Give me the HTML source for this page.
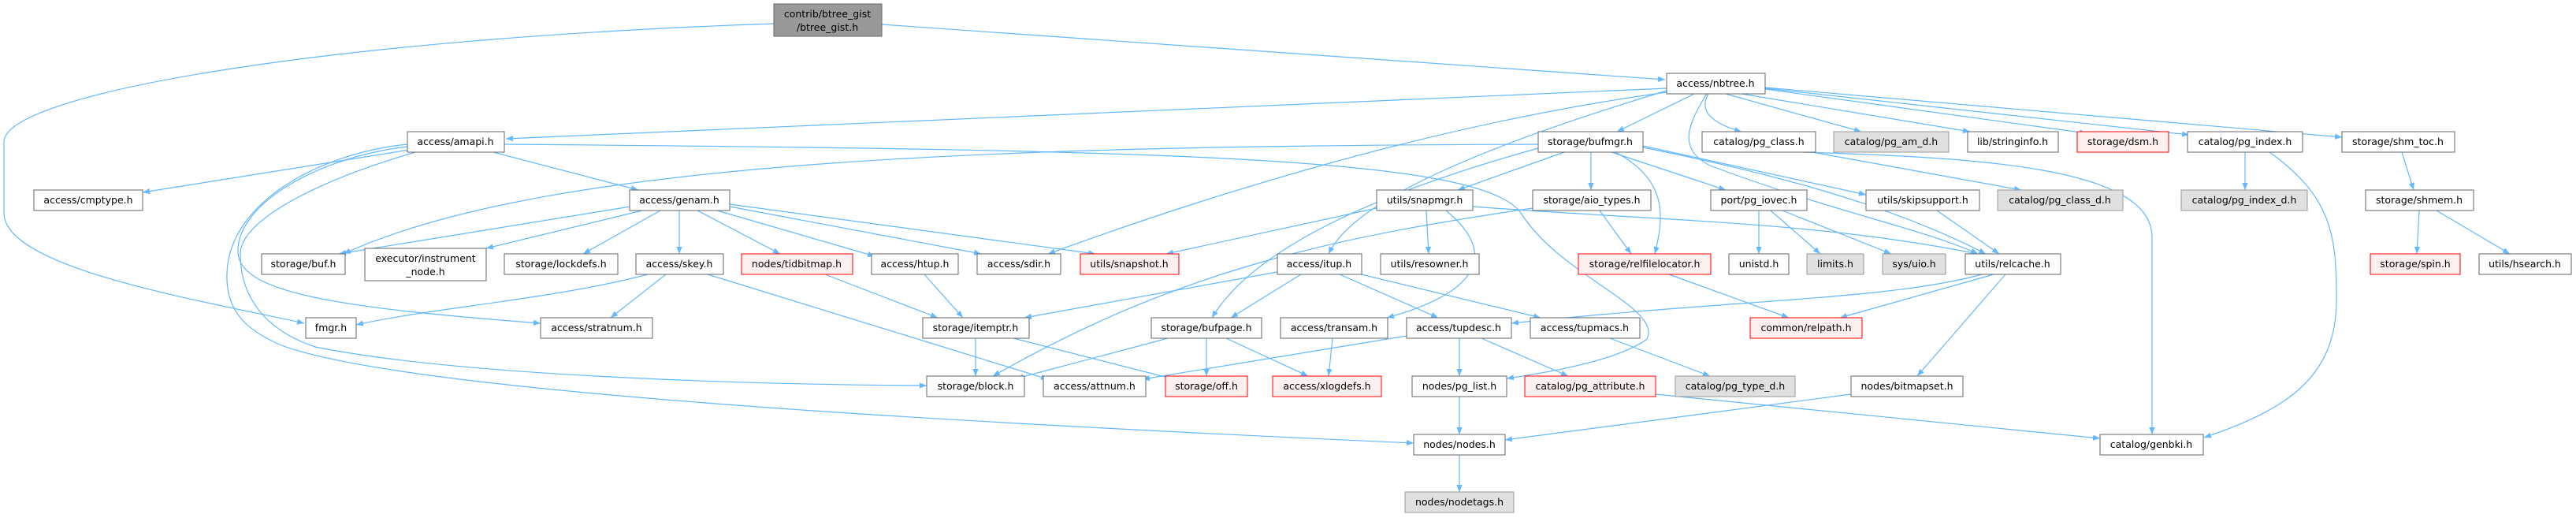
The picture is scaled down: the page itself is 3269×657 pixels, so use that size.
<!DOCTYPE html>
<html><head><meta charset="utf-8"><style>
html,body{margin:0;padding:0;background:#fff;}
svg text{font-family:"DejaVu Sans","Liberation Sans",sans-serif;font-size:12.5px;fill:#000;}
</style></head><body>
<svg width="3269" height="652" viewBox="0 0 3269 652" xmlns="http://www.w3.org/2000/svg">
<defs><marker id="a" viewBox="0 0 10 10" refX="10" refY="5" markerWidth="9" markerHeight="9" markerUnits="userSpaceOnUse" orient="auto"><path d="M0,1 L10,5 L0,9 z" fill="#63b8ff"/></marker></defs>
<g fill="none" stroke="#63b8ff" stroke-width="1.2" marker-end="url(#a)">
<path d="M1119,31 L2113,101"/>
<path d="M982,30 C400,50 5,120 5,180 L5,270 C5,340 250,380 386,410"/>
<path d="M2115,112 L642,176"/>
<path d="M2150,119 L2052,167"/>
<path d="M2168,119 Q2150,150 2210,167"/>
<path d="M2190,119 L2362,167"/>
<path d="M2210,119 L2500,167"/>
<path d="M2240,113 L2648,169"/>
<path d="M2240,112 L2778,171"/>
<path d="M2240,111 L2972,174"/>
<path d="M2115,115 C1900,180 1720,250 1686,322"/>
<path d="M2115,117 C1800,160 1500,260 1330,322"/>
<path d="M2166,119 C2140,160 2130,190 2170,210 C2330,270 2440,290 2510,322"/>
<path d="M520,190 L181,244"/>
<path d="M626,193 L810,241"/>
<path d="M517,186 C400,200 300,260 302,320 C304,370 420,390 686,410"/>
<path d="M517,183 C400,195 290,260 288,347 C286,400 320,420 350,435 C500,500 1300,540 1794,562"/>
<path d="M527,193 C400,230 305,280 305,322 C305,380 340,420 400,440 C600,480 1000,488 1176,489"/>
<path d="M640,183 C1500,190 1880,200 1930,270 C1980,350 2110,390 2090,430 Q2050,460 1912,480"/>
<path d="M800,262 L430,322"/>
<path d="M815,267 L617,315"/>
<path d="M838,267 L740,322"/>
<path d="M862,267 L862,322"/>
<path d="M885,267 L990,322"/>
<path d="M910,267 L1110,325"/>
<path d="M926,262 L1245,322"/>
<path d="M926,259 L1390,322"/>
<path d="M1952,183 C1300,185 700,200 436,322"/>
<path d="M1952,188 C1800,230 1600,300 1538,403"/>
<path d="M1945,264 C1700,300 1500,340 1260,477"/>
<path d="M1985,193 L1850,241"/>
<path d="M2019,193 L2019,241"/>
<path d="M2045,193 L2190,241"/>
<path d="M2050,193 C2120,230 2110,280 2100,322"/>
<path d="M2085,187 C2250,220 2400,260 2520,322"/>
<path d="M2085,185 L2368,247"/>
<path d="M1747,264 L1480,322"/>
<path d="M1810,267 L1813,322"/>
<path d="M1835,267 C1900,320 1880,370 1760,403"/>
<path d="M1869,262 C2100,280 2300,280 2510,322"/>
<path d="M2030,267 L2070,322"/>
<path d="M2232,267 L2232,322"/>
<path d="M2247,267 L2310,322"/>
<path d="M2262,267 L2400,322"/>
<path d="M2458,267 L2537,322"/>
<path d="M1621,345 L1300,403"/>
<path d="M1651,348 L1562,403"/>
<path d="M1700,348 L1825,403"/>
<path d="M1715,345 L1955,403"/>
<path d="M1173,348 L1222,403"/>
<path d="M1047,348 L1190,403"/>
<path d="M822,348 C700,380 550,390 452,412"/>
<path d="M845,348 L775,403"/>
<path d="M898,348 L1330,481"/>
<path d="M1238,429 L1238,477"/>
<path d="M1286,429 L1490,481"/>
<path d="M1482,429 L1290,480"/>
<path d="M1531,429 L1531,477"/>
<path d="M1556,429 L1660,477"/>
<path d="M1691,429 L1686,477"/>
<path d="M1785,426 L1450,481"/>
<path d="M1852,429 L1852,477"/>
<path d="M1880,429 L1990,477"/>
<path d="M2043,429 L2170,477"/>
<path d="M1852,503 L1852,551"/>
<path d="M1852,577 L1852,624"/>
<path d="M2101,500 L2665,556"/>
<path d="M2349,500 L1910,558"/>
<path d="M2530,348 L2335,403"/>
<path d="M2515,348 C2400,380 2200,380 1918,410"/>
<path d="M2545,348 L2433,477"/>
<path d="M2118,348 L2270,403"/>
<path d="M2300,193 L2565,241"/>
<path d="M2290,193 C2500,200 2730,210 2731,300 L2731,551"/>
<path d="M2849,193 L2849,241"/>
<path d="M2880,193 C2960,250 2965,300 2965,380 C2965,480 2900,520 2797,555"/>
<path d="M3048,193 L3063,241"/>
<path d="M3070,267 L3067,322"/>
<path d="M3092,267 L3185,322"/>
</g>
<g stroke-width="1">
<rect x="982" y="5" width="137" height="41" fill="#999" stroke="#666"/>
<text x="1050" y="22" text-anchor="middle">contrib/btree_gist</text>
<text x="1050" y="39" text-anchor="middle">/btree_gist.h</text>
<rect x="463" y="315" width="154" height="41" fill="#fff" stroke="#666"/>
<text x="540" y="332" text-anchor="middle">executor/instrument</text>
<text x="540" y="349" text-anchor="middle">_node.h</text>
</g>
<g stroke-width="1" text-anchor="middle">
<g fill="#fff" stroke="#666">
<rect x="2115" y="93" width="125" height="26"/>
<rect x="517" y="167" width="123" height="26"/>
<rect x="43" y="241" width="138" height="26"/>
<rect x="799" y="241" width="127" height="26"/>
<rect x="332" y="322" width="106" height="26"/>
<rect x="640" y="322" width="144" height="26"/>
<rect x="807" y="322" width="111" height="26"/>
<rect x="388" y="403" width="64" height="26"/>
<rect x="686" y="403" width="142" height="26"/>
<rect x="1952" y="167" width="133" height="26"/>
<rect x="2160" y="167" width="144" height="26"/>
<rect x="1747" y="241" width="122" height="26"/>
<rect x="1945" y="241" width="150" height="26"/>
<rect x="2171" y="241" width="122" height="26"/>
<rect x="1106" y="322" width="110" height="26"/>
<rect x="1240" y="322" width="106" height="26"/>
<rect x="1621" y="322" width="107" height="26"/>
<rect x="1752" y="322" width="125" height="26"/>
<rect x="2194" y="322" width="76" height="26"/>
<rect x="1171" y="403" width="135" height="26"/>
<rect x="1461" y="403" width="140" height="26"/>
<rect x="1625" y="403" width="136" height="26"/>
<rect x="1785" y="403" width="133" height="26"/>
<rect x="1942" y="403" width="139" height="26"/>
<rect x="1176" y="477" width="124" height="26"/>
<rect x="1324" y="477" width="130" height="26"/>
<rect x="1792" y="477" width="120" height="26"/>
<rect x="1794" y="551" width="116" height="26"/>
<rect x="2497" y="167" width="115" height="26"/>
<rect x="2776" y="167" width="146" height="26"/>
<rect x="2972" y="167" width="143" height="26"/>
<rect x="2368" y="241" width="144" height="26"/>
<rect x="3002" y="241" width="137" height="26"/>
<rect x="2494" y="322" width="121" height="26"/>
<rect x="3146" y="322" width="117" height="26"/>
<rect x="2349" y="477" width="142" height="26"/>
<rect x="2665" y="551" width="131" height="26"/>
</g>
<g fill="#fff0f0" stroke="#ff0000">
<rect x="941" y="322" width="141" height="26"/>
<rect x="1371" y="322" width="125" height="26"/>
<rect x="2003" y="322" width="168" height="26"/>
<rect x="1479" y="477" width="104" height="26"/>
<rect x="1615" y="477" width="138" height="26"/>
<rect x="1935" y="477" width="166" height="26"/>
<rect x="2636" y="167" width="116" height="26"/>
<rect x="3008" y="322" width="114" height="26"/>
<rect x="2221" y="403" width="142" height="26"/>
</g>
<g fill="#e0e0e0" stroke="#999">
<rect x="2126" y="477" width="152" height="26"/>
<rect x="1783" y="624" width="138" height="26"/>
<rect x="2327" y="167" width="146" height="26"/>
<rect x="2535" y="241" width="159" height="26"/>
<rect x="2768" y="241" width="160" height="26"/>
<rect x="2293" y="322" width="72" height="26"/>
<rect x="2389" y="322" width="80" height="26"/>
</g>
<text x="2177" y="110">access/nbtree.h</text>
<text x="578" y="184">access/amapi.h</text>
<text x="112" y="258">access/cmptype.h</text>
<text x="862" y="258">access/genam.h</text>
<text x="385" y="339">storage/buf.h</text>
<text x="712" y="339">storage/lockdefs.h</text>
<text x="862" y="339">access/skey.h</text>
<text x="420" y="420">fmgr.h</text>
<text x="757" y="420">access/stratnum.h</text>
<text x="2018" y="184">storage/bufmgr.h</text>
<text x="2232" y="184">catalog/pg_class.h</text>
<text x="1808" y="258">utils/snapmgr.h</text>
<text x="2020" y="258">storage/aio_types.h</text>
<text x="2232" y="258">port/pg_iovec.h</text>
<text x="1161" y="339">access/htup.h</text>
<text x="1293" y="339">access/sdir.h</text>
<text x="1674" y="339">access/itup.h</text>
<text x="1814" y="339">utils/resowner.h</text>
<text x="2232" y="339">unistd.h</text>
<text x="1238" y="420">storage/itemptr.h</text>
<text x="1531" y="420">storage/bufpage.h</text>
<text x="1693" y="420">access/transam.h</text>
<text x="1851" y="420">access/tupdesc.h</text>
<text x="2011" y="420">access/tupmacs.h</text>
<text x="1238" y="494">storage/block.h</text>
<text x="1389" y="494">access/attnum.h</text>
<text x="1852" y="494">nodes/pg_list.h</text>
<text x="1852" y="568">nodes/nodes.h</text>
<text x="2554" y="184">lib/stringinfo.h</text>
<text x="2849" y="184">catalog/pg_index.h</text>
<text x="3043" y="184">storage/shm_toc.h</text>
<text x="2440" y="258">utils/skipsupport.h</text>
<text x="3070" y="258">storage/shmem.h</text>
<text x="2554" y="339">utils/relcache.h</text>
<text x="3204" y="339">utils/hsearch.h</text>
<text x="2420" y="494">nodes/bitmapset.h</text>
<text x="2730" y="568">catalog/genbki.h</text>
<text x="1011" y="339">nodes/tidbitmap.h</text>
<text x="1433" y="339">utils/snapshot.h</text>
<text x="2087" y="339">storage/relfilelocator.h</text>
<text x="1531" y="494">storage/off.h</text>
<text x="1684" y="494">access/xlogdefs.h</text>
<text x="2018" y="494">catalog/pg_attribute.h</text>
<text x="2694" y="184">storage/dsm.h</text>
<text x="3065" y="339">storage/spin.h</text>
<text x="2292" y="420">common/relpath.h</text>
<text x="2202" y="494">catalog/pg_type_d.h</text>
<text x="1852" y="641">nodes/nodetags.h</text>
<text x="2400" y="184">catalog/pg_am_d.h</text>
<text x="2614" y="258">catalog/pg_class_d.h</text>
<text x="2848" y="258">catalog/pg_index_d.h</text>
<text x="2329" y="339">limits.h</text>
<text x="2429" y="339">sys/uio.h</text>
</g>
</svg>
</body></html>
